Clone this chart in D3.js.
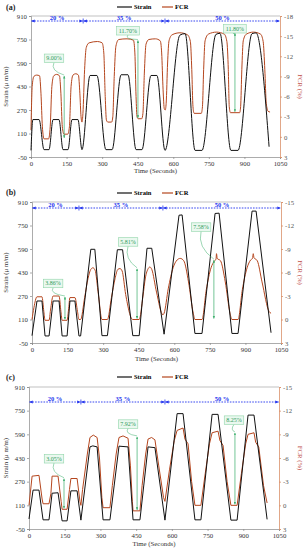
<!DOCTYPE html>
<html><head><meta charset="utf-8">
<script src="https://cdn.jsdelivr.net/npm/d3@7"></script>
<style>body{margin:0;background:#fff} svg{display:block} text{font-family:"Liberation Serif","Times New Roman",serif}</style>
</head><body><svg id="chart" width="304" height="550"></svg>
<script>
// ---------------- DATA ----------------
const xTicks = [0,150,300,450,600,750,900,1050];
const strainTicks = [-50,110,270,430,590,750,910];
const fcrTicksA = [-18,-15,-12,-9,-6,-3,0,3];
const fcrTicksBC = [-15,-12,-9,-6,-3,0,3];
const levelLabels = ["20 %","35 %","50 %"];
const levelBoundsA = [0,220,565,1050];
const levelBoundsB = [0,198,552,1050];
const levelBoundsC = [0,218,571,1050];

// Panel (a)
const aStrainT = [0,8,34,55,76,93,118,135,156,173,198,215,249,278,316,342,380,409,443,468,506,531,565,628,650,692,721,780,797,843,873,932,949,1004];
const aStrainV = [-5,205,205,0,0,205,205,0,0,205,205,0,505,505,0,0,510,510,0,0,505,505,-5,780,790,-5,-5,785,792,-5,-5,790,795,20];
const aFcrT = [0,5,12,24,36,42,48,55,74,81,88,96,108,120,126,132,139,155,162,169,177,189,200,206,211,215,219,226,233,245,280,300,307,313,318,324,340,345,351,358,370,405,432,438,443,447,452,467,472,478,485,497,525,545,551,557,562,566,570,576,582,595,628,660,672,678,683,688,718,723,728,734,748,782,815,826,832,836,841,880,884,889,895,908,938,968,979,986,992,1000,1008];
const aFcrV = [-1,-7.5,-9.0,-9.2,-9.1,-6.5,-1.5,0.3,0.3,-1.5,-7.5,-9.1,-9.3,-9.1,-6.5,-1.5,-0.4,-0.4,-1.5,-7.5,-9.2,-9.4,-9.2,-6.5,-3,-2.2,-3.5,-10,-13.3,-14.0,-14.2,-14.0,-12.5,-6,-2.5,-2.2,-2.2,-3,-9,-13.5,-14.5,-14.6,-14.4,-12.5,-6,-3,-2.7,-2.7,-3.5,-9.5,-13.8,-14.5,-14.6,-14.3,-12.5,-7,-4.2,-4.0,-5,-11,-14.3,-15.2,-15.5,-15.2,-14.2,-10,-4.5,-3.5,-3.5,-4.5,-10,-14.3,-15.3,-15.6,-15.3,-14.2,-10,-4.5,-3.6,-3.6,-4.5,-10,-14.3,-15.3,-15.6,-15.3,-14.2,-10,-5,-3.8,-3.7];
const aNotes = [
  {label:"9.00%", t:140, hi:-9.2, lo:0.3, boxT:97, boxV:-11.7},
  {label:"11.70%", t:451, hi:-14.5, lo:-2.7, boxT:409, boxV:-15.8},
  {label:"11.80%", t:860, hi:-15.6, lo:-3.6, boxT:860, boxV:-16.1}
];

// Panel (b)
const bStrainT = [0,21,42,55,72,89,114,127,148,160,181,198,205,248,265,295,318,360,382,425,452,485,505,557,620,633,687,717,772,789,843,869,928,945,1008];
const bStrainV = [0,236,236,-2,-2,236,236,-2,-2,236,236,-2,-2,588,588,0,0,585,585,0,0,595,595,10,820,822,15,15,832,834,15,15,848,848,20];
const bFcrT = [0,8,21,42,50,55,72,78,89,114,122,127,148,154,160,181,192,198,205,222,236,248,257,266,280,295,318,335,350,362,371,380,395,425,452,468,478,490,497,505,525,552,557,575,595,612,625,640,660,680,687,717,735,755,770,776,778,781,795,815,835,843,869,887,907,922,930,933,936,950,970,1000,1008];
const bFcrV = [0,-1.5,-2.9,-2.9,-1,0.1,0.1,-1.2,-3.0,-3.0,-1,0.1,0.1,-1.2,-2.8,-2.8,-1,0,0,-2.8,-5.2,-6.4,-6.6,-6.3,-3.2,0,0,-2.8,-5.2,-6.4,-6.5,-6.2,-3.2,0,0,-3,-5.3,-6.5,-6.7,-6.4,-3.5,-0.6,-0.8,-4,-6.6,-7.6,-7.8,-7.5,-4.8,-0.8,0,0,-3.8,-6.6,-7.5,-7.7,-8.4,-7.8,-7.5,-4.8,-0.8,0,0,-3.8,-6.6,-7.6,-7.8,-8.4,-7.9,-7.5,-4.8,-1,-0.8];
const bNotes = [
  {label:"3.86%", t:139, hi:-3.0, lo:0.1, boxT:89, boxV:-4.6},
  {label:"5.81%", t:443, hi:-6.6, lo:0, boxT:405, boxV:-9.9},
  {label:"7.58%", t:767, hi:-7.7, lo:0, boxT:713, boxV:-11.8}
];

// Panel (c)
const cStrainT = [0,17,42,59,84,97,122,139,160,176,202,218,256,268,286,311,340,378,416,437,466,500,529,571,622,647,697,722,769,794,848,874,920,945,1000];
const cStrainV = [18,213,213,12,12,192,195,5,5,208,208,10,505,512,505,12,12,510,505,12,12,505,500,10,730,730,12,12,725,725,10,10,720,720,15];
const cFcrT = [0,13,42,55,59,84,92,97,122,135,139,160,170,176,202,214,218,225,245,256,270,286,296,306,311,340,350,366,378,395,416,426,434,437,466,475,490,500,515,529,545,565,571,590,610,622,647,655,668,683,697,722,740,758,769,794,802,815,832,848,874,892,910,920,945,952,965,985,1000];
const cFcrV = [0,-3.7,-3.8,-0.8,-0.2,-0.2,-1.5,-3.7,-3.7,-0.5,0.5,0.5,-2,-3.4,-3.4,-0.5,0,-2,-6.5,-8.6,-8.9,-8.6,-6,-1,0.3,0.3,-2.5,-6.5,-8.6,-8.8,-8.5,-5,-0.5,0.7,0.7,-2.5,-6.5,-8.4,-8.6,-8.3,-5,-1,-0.5,-4.5,-8.2,-9.5,-9.8,-8.4,-7.8,-3,0,0,-4,-7.8,-9.2,-9.4,-8.2,-7.6,-3,0,0,-4,-7.8,-9.0,-9.2,-8.0,-7.4,-2.5,-0.3];
const cNotes = [
  {label:"3.05%", t:147, hi:-3.5, lo:0.5, boxT:105, boxV:-5.9},
  {label:"7.92%", t:454, hi:-8.8, lo:0.7, boxT:416, boxV:-10.3},
  {label:"8.25%", t:865, hi:-9.3, lo:0, boxT:861, boxV:-10.8}
];

// ---------------- DRAWING ----------------
const svg = d3.select("#chart");
const BLACK = "#111", FCR = "#b5461e", BLUE = "#2233ee", GREEN = "#3aae6a";
const fmt = d => String(d);
const defs = svg.append("defs");
function marker(id, color, size){
  defs.append("marker").attr("id", id).attr("viewBox","0 0 10 10").attr("refX",9).attr("refY",5)
    .attr("markerWidth",size).attr("markerHeight",size).attr("orient","auto-start-reverse")
    .append("path").attr("d","M0,1 L10,5 L0,9 z").attr("fill",color);
}
marker("ab", BLUE, 4); marker("ag", GREEN, 4);

const panels = [
  {name:"(a)", L:31, R:280, T:16, B:157, labY:10, legY:7, lvlY:21, timeY:173,
   fcrDom:[-18,3], fcrTicks:fcrTicksA, bounds:levelBoundsA,
   sT:aStrainT, sV:aStrainV, fT:aFcrT, fV:aFcrV, notes:aNotes, curve:d3.curveMonotoneX, fcurve:d3.curveMonotoneX},
  {name:"(b)", L:32, R:281, T:202, B:343, labY:195, legY:193, lvlY:208, timeY:361,
   fcrDom:[-15,3], fcrTicks:fcrTicksBC, bounds:levelBoundsB,
   sT:bStrainT, sV:bStrainV, fT:bFcrT, fV:bFcrV, notes:bNotes, curve:d3.curveLinear, fcurve:d3.curveMonotoneX},
  {name:"(c)", L:29, R:279, T:387, B:529, labY:380, legY:377, lvlY:402, timeY:546,
   fcrDom:[-15,3], fcrTicks:fcrTicksBC, bounds:levelBoundsC,
   sT:cStrainT, sV:cStrainV, fT:cFcrT, fV:cFcrV, notes:cNotes, curve:d3.curveLinear, fcurve:d3.curveLinear}
];

panels.forEach(p => {
  const g = svg.append("g");
  const x = d3.scaleLinear().domain([0,1050]).range([p.L,p.R]);
  const yL = d3.scaleLinear().domain([-50,910]).range([p.B,p.T]);
  const yR = d3.scaleLinear().domain(p.fcrDom).range([p.T,p.B]);

  g.append("line").attr("x1",p.L).attr("x2",p.R).attr("y1",p.T).attr("y2",p.T).attr("stroke","#999").attr("stroke-width",0.6);

  const ax = g.append("g").attr("transform",`translate(0,${p.B})`)
    .call(d3.axisBottom(x).tickValues(xTicks).tickSize(2).tickPadding(2).tickFormat(fmt));
  const ayl = g.append("g").attr("transform",`translate(${p.L},0)`)
    .call(d3.axisLeft(yL).tickValues(strainTicks).tickSize(2).tickPadding(2).tickFormat(fmt));
  const ayr = g.append("g").attr("transform",`translate(${p.R},0)`)
    .call(d3.axisRight(yR).tickValues(p.fcrTicks).tickSize(2).tickPadding(2).tickFormat(fmt));
  [ax,ayl].forEach(a=>{
    a.selectAll("path,line").attr("stroke","#888").attr("stroke-width",0.7);
    a.selectAll("text").attr("font-size",6.8).attr("fill","#333").style("font-family",'"Liberation Serif",serif');
  });
  ayr.selectAll("path,line").attr("stroke","#d9906a").attr("stroke-width",0.8);
  ayr.selectAll("text").attr("font-size",6.8).attr("fill","#555").style("font-family",'"Liberation Serif",serif');

  g.append("text").attr("transform",`translate(8,${(p.T+p.B)/2}) rotate(-90)`).attr("text-anchor","middle")
    .attr("font-size",6.8).attr("fill","#333").text("Strain (μ m/m)");
  g.append("text").attr("transform",`translate(298,${(p.T+p.B)/2}) rotate(90)`).attr("text-anchor","middle")
    .attr("font-size",6.8).attr("fill","#c0504d").text("FCR (%)");
  g.append("text").attr("x",(p.L+p.R)/2).attr("y",p.timeY).attr("text-anchor","middle")
    .attr("font-size",6.8).attr("fill","#333").text("Time (Seconds)");
  g.append("text").attr("x",6).attr("y",p.labY).attr("font-size",8).attr("font-weight","bold").attr("fill","#222").text(p.name);

  g.append("line").attr("x1",117).attr("x2",132).attr("y1",p.legY).attr("y2",p.legY).attr("stroke",BLACK).attr("stroke-width",1.2);
  g.append("text").attr("x",134).attr("y",p.legY+2.3).attr("font-size",6.5).attr("font-weight","bold").text("Strain");
  g.append("line").attr("x1",162).attr("x2",173).attr("y1",p.legY).attr("y2",p.legY).attr("stroke",FCR).attr("stroke-width",1.2);
  g.append("text").attr("x",175).attr("y",p.legY+2.3).attr("font-size",6.5).attr("font-weight","bold").text("FCR");

  for (let i=0;i<3;i++){
    const x1 = x(p.bounds[i]), x2 = x(p.bounds[i+1]);
    g.append("line").attr("x1",x1+0.5).attr("x2",x2-0.5).attr("y1",p.lvlY).attr("y2",p.lvlY)
      .attr("stroke",BLUE).attr("stroke-width",0.9).attr("stroke-dasharray","1.6,1.2")
      .attr("marker-start","url(#ab)").attr("marker-end","url(#ab)");
    g.append("text").attr("x",(x1+x2)/2).attr("y",p.lvlY-1.5).attr("text-anchor","middle")
      .attr("font-size",6.5).attr("font-weight","bold").attr("fill",BLUE).text(levelLabels[i]);
  }
  p.bounds.slice(1,3).forEach(b=>{
    g.append("line").attr("x1",x(b)).attr("x2",x(b)).attr("y1",p.lvlY-2.5).attr("y2",p.lvlY+2.5).attr("stroke",BLUE).attr("stroke-width",0.8);
  });

  const sData = p.sT.map((t,i)=>[t,p.sV[i]]);
  const fData = p.fT.map((t,i)=>[t,p.fV[i]]);
  g.append("path").datum(fData).attr("fill","none").attr("stroke",FCR).attr("stroke-width",1.0)
    .attr("d", d3.line().x(d=>x(d[0])).y(d=>yR(d[1])).curve(p.fcurve));
  g.append("path").datum(sData).attr("fill","none").attr("stroke",BLACK).attr("stroke-width",1.0)
    .attr("d", d3.line().x(d=>x(d[0])).y(d=>yL(d[1])).curve(p.curve));

  p.notes.forEach(n=>{
    const ax0 = x(n.t), yTop = yR(n.hi), yBot = yR(n.lo);
    g.append("line").attr("x1",ax0).attr("x2",ax0).attr("y1",yTop+1).attr("y2",yBot-1)
      .attr("stroke",GREEN).attr("stroke-width",0.7)
      .attr("marker-start","url(#ag)").attr("marker-end","url(#ag)");
    const bx = x(n.boxT), by = yR(n.boxV);
    const w = n.label.length*3.1+4, h = 8.5;
    g.append("path").attr("fill","none").attr("stroke",GREEN).attr("stroke-width",0.5)
      .attr("d",`M${bx},${by+h/2} Q${Math.min(bx,ax0)-4},${(by+yTop)/2+4} ${ax0},${yTop}`);
    g.append("rect").attr("x",bx-w/2).attr("y",by-h/2).attr("width",w).attr("height",h)
      .attr("fill","#eaf8ef").attr("stroke","#8fd5a8").attr("stroke-width",0.6);
    g.append("text").attr("x",bx).attr("y",by+2).attr("text-anchor","middle")
      .attr("font-size",6).attr("fill","#2e9a5a").text(n.label);
  });
});
</script></body></html>
